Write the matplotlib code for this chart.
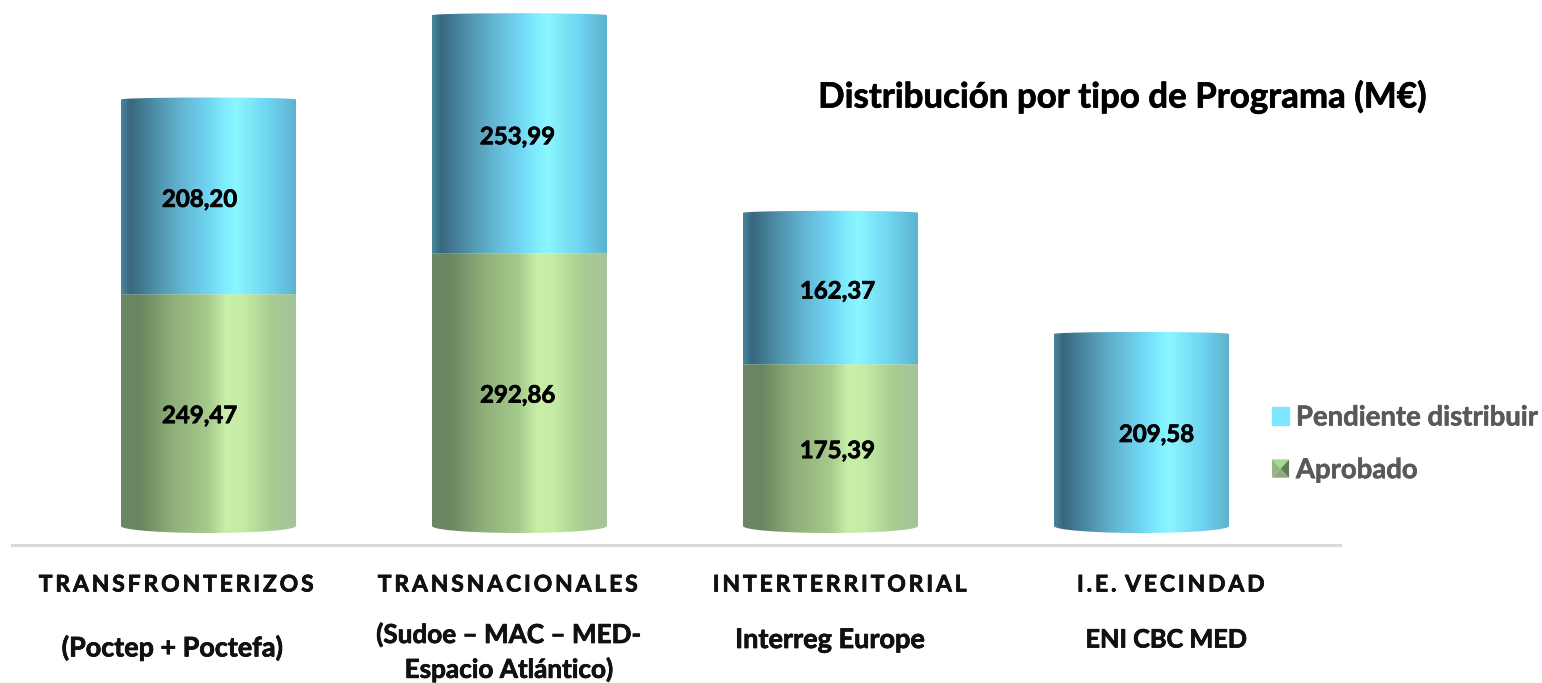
import numpy as np
import matplotlib.pyplot as plt
import matplotlib.patheffects as pe
from matplotlib.colors import LinearSegmentedColormap
from matplotlib.legend_handler import HandlerBase
from matplotlib.patches import Patch, Polygon

TS = "\u2009"
categories = [TS.join("TRANSFRONTERIZOS"), TS.join("TRANSNACIONALES"),
              TS.join("INTERTERRITORIAL"), TS.join("I.E.") + TS * 3 + TS.join("VECINDAD")]
subtitles = ["(Poctep + Poctefa)", "(Sudoe – MAC – MED-\nEspacio Atlántico)",
             "Interreg Europe", "ENI CBC MED"]
aprobado = [249.47, 292.86, 175.39, 0]
pendiente = [208.20, 253.99, 162.37, 209.58]
aprobado_labels = ["249,47", "292,86", "175,39", ""]
pendiente_labels = ["208,20", "253,99", "162,37", "209,58"]

FONT = "Lato"
PX_X = 311.0
PX_Y = 0.945
X0 = 208.5
Y0 = 530.0
W, H = 1542, 683
SAG = 7.0

blue_cmap = LinearSegmentedColormap.from_list("blue", [
    (0.0, "#47859e"), (0.05, "#38687e"), (0.2, "#4f90a9"), (0.35, "#63b6d3"),
    (0.5, "#70d5f2"), (0.6, "#80eeff"), (0.66, "#8bf6ff"), (0.85, "#6fd3f0"), (1.0, "#5db3cf")])
green_cmap = LinearSegmentedColormap.from_list("green", [
    (0.0, "#6b8764"), (0.1, "#6a8560"), (0.3, "#8fb079"), (0.5, "#a6ca8c"),
    (0.6, "#c8f0a8"), (0.7, "#c4eca4"), (0.85, "#a9ce91"), (1.0, "#a6c399")])
bold = [pe.withStroke(linewidth=0.5, foreground="black")]


def cylinder(ax, rect, cmap, sag_top):
    # gradient clipped to the bar outline, with a curved bottom and top
    x0, x1 = rect.get_x(), rect.get_x() + rect.get_width()
    y0, y1 = rect.get_y(), rect.get_y() + rect.get_height()
    t = np.linspace(0, np.pi, 60)
    xs = (x0 + x1) / 2 + (x1 - x0) / 2 * np.cos(t)
    sag = SAG / PX_Y
    low = y0 - 3 / PX_Y
    bottom = low + sag * (1 - np.sin(t)) if y0 == 0 else y0 + 0 * t
    top = y1 - sag_top + sag_top * np.sin(t)
    verts = np.vstack([np.column_stack([xs[::-1], top[::-1]]),
                       np.column_stack([xs, bottom])])
    clip = Polygon(verts, closed=True, transform=ax.transData, fc="none", ec="none")
    ax.add_patch(clip)
    grad = np.linspace(0, 1, 256)[None, :]
    im = ax.imshow(grad, cmap=cmap, aspect="auto", interpolation="bilinear", zorder=2,
                   extent=[x0, x1, low - 1, y1 + 1])
    im.set_clip_path(clip)


class BevelHandler(HandlerBase):
    def create_artists(self, legend, orig, xd, yd, width, height, fontsize, trans):
        x, y = -xd, -yd
        c = (x + width / 2, y + height / 2)
        corners = [(x, y), (x + width, y), (x + width, y + height), (x, y + height)]
        cols = ["#8ea97c", "#5f7a55", "#a8d896", "#94b884"]
        out = []
        for i in range(4):
            out.append(Polygon([corners[i], corners[(i + 1) % 4], c], closed=True,
                               fc=cols[i], ec="none", transform=trans))
        return out


def main():
    plt.rcParams["font.family"] = [FONT, "DejaVu Sans"]
    fig = plt.figure(figsize=(W / 100, H / 100), dpi=100)
    ax = fig.add_axes([0, 0, 1, 1])
    xpos = np.arange(len(categories))

    ax.set_xlim(-X0 / PX_X, (W - X0) / PX_X)
    ax.set_ylim(-(H - Y0) / PX_Y, Y0 / PX_Y)
    xlim, ylim = ax.get_xlim(), ax.get_ylim()

    bars_a = ax.bar(xpos, aprobado, width=175 / PX_X, color="none")
    bars_p = ax.bar(xpos, pendiente, width=175 / PX_X, bottom=aprobado, color="none")

    for rect in bars_a:
        if rect.get_height() > 0:
            cylinder(ax, rect, green_cmap, 0)
    for rect in bars_p:
        cylinder(ax, rect, blue_cmap, 2 / PX_Y)

    ax.set_xlim(xlim)
    ax.set_ylim(ylim)
    ax.axis("off")

    label_dx = [-9 / PX_X, -2 / PX_X, 7 / PX_X, 15 / PX_X]
    label_dy = 3.5 / PX_Y
    for i in xpos:
        if aprobado[i] > 0:
            t = ax.text(i + label_dx[i], aprobado[i] / 2 - label_dy, aprobado_labels[i], ha="center",
                        va="center", fontsize=17.3, fontweight="bold", color="black", zorder=5)
            t.set_path_effects(bold)
        t = ax.text(i + label_dx[i], aprobado[i] + pendiente[i] / 2 - label_dy, pendiente_labels[i],
                    ha="center", va="center", fontsize=17.3, fontweight="bold", color="black", zorder=5)
        t.set_path_effects(bold)

    # base line and category labels, placed in pixels
    to_fig = lambda px, py: (px / W, 1 - py / H)
    fig.add_artist(plt.Line2D([12 / W, 1340 / W], [1 - 545 / H] * 2, color="#d9d9d9", lw=2.2))
    cat_x = [176.5, 508, 840, 1171]
    sub_x = [172, 509, 830, 1166]
    sub_y = [648, 652, 640, 640]
    sub_size = [19.4, 18.8, 19.5, 18.2]
    for i in xpos:
        fx, fy = to_fig(cat_x[i], 585)
        t = fig.text(fx, fy, categories[i], ha="center", va="center", fontsize=16.5,
                     fontweight="bold", color="#111111")
        t.set_path_effects(bold)
        fx, fy = to_fig(sub_x[i], sub_y[i])
        t = fig.text(fx, fy, subtitles[i], ha="center", va="center", fontsize=sub_size[i],
                     fontweight="bold", color="#111111", linespacing=1.45)
        t.set_path_effects(bold)

    fx, fy = to_fig(1122, 97)
    t = fig.text(fx, fy, "Distribución por tipo de Programa (M€)", ha="center", va="center",
                 fontsize=25.1, fontweight="bold", color="black")
    t.set_path_effects(bold)

    handles = [Patch(color="#7fe6ff", label="Pendiente distribuir"), Patch(color="#8fae7c", label="Aprobado")]
    leg = ax.legend(handles=handles, frameon=False, loc="upper left",
                    bbox_to_anchor=(1272 / W, 1 - 404.5 / H), bbox_transform=fig.transFigure,
                    labelcolor="#595959", handlelength=0.62, handleheight=0.65,
                    handletextpad=0.25, labelspacing=0.97, borderpad=0, borderaxespad=0,
                    handler_map={handles[1]: BevelHandler()},
                    prop={"family": FONT, "weight": "bold", "size": 19.8})
    for txt in leg.get_texts():
        txt.set_path_effects([pe.withStroke(linewidth=0.4, foreground="#595959")])

    plt.savefig("out.png", dpi=100)
    plt.close()


if __name__ == '__main__':
    main()
